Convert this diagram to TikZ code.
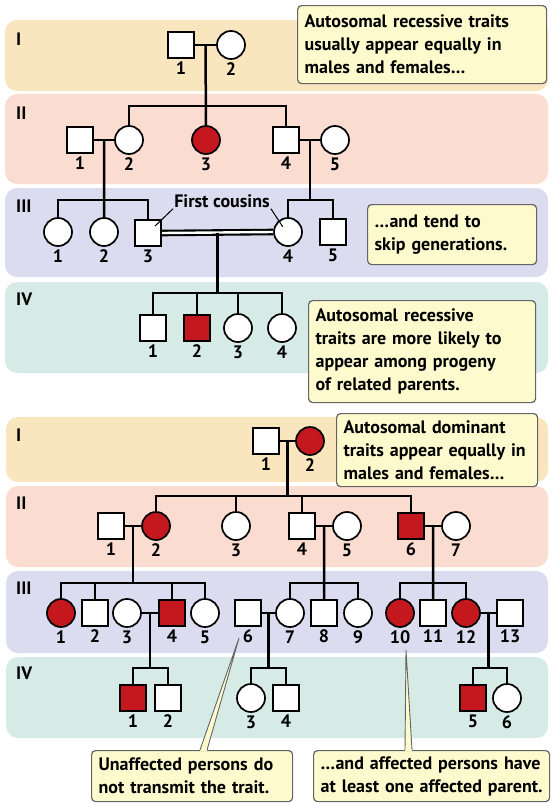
\documentclass[tikz,border=0pt]{standalone}
\usepackage{fontspec}
\setmainfont{PT Sans}
\usetikzlibrary{calc}

\definecolor{affred}{RGB}{196,24,30}
\definecolor{bandI}{RGB}{249,230,190}
\definecolor{bandII}{RGB}{250,221,208}
\definecolor{bandIII}{RGB}{220,220,240}
\definecolor{bandIV}{RGB}{214,235,229}
\definecolor{notefill}{RGB}{253,251,206}
\definecolor{noteline}{RGB}{100,100,100}

\newcommand{\notefont}{\fontsize{18}{23}\selectfont\bfseries}
\newcommand{\numfont}{\fontsize{18}{18}\selectfont\bfseries}

\tikzset{
	male/.style={rectangle, draw, line width=1.7pt, fill=white, minimum size=26pt, inner sep=0pt},
	female/.style={circle, draw, line width=1.7pt, fill=white, minimum size=28pt, inner sep=0pt},
	sick/.style={fill=affred},
	tie/.style={line width=2.5pt},
	band/.style={rounded corners=12pt},
	note/.style={draw=noteline, fill=notefill, line width=1.2pt, rounded corners=4pt, align=left, anchor=north west, inner xsep=7pt, inner ysep=3pt, font=\notefont},
	gen/.style={anchor=west, inner sep=0pt, font=\numfont},
	every label/.style={font=\numfont, inner sep=2.5pt}
}

\begin{document}
\begin{tikzpicture}[x=1pt, y=-1pt]
	\useasboundingbox (0,0) rectangle (554,803);

	% recessive
	\begin{scope}
		\fill[band, bandI] (5,20) rectangle (548,91);
		\fill[band, bandII] (5,94) rectangle (548,184);
		\fill[band, bandIII] (5,188) rectangle (548,277);
		\fill[band, bandIV] (5,282) rectangle (548,373);

		\node[gen] (aGI) at (16,39) {I};
		\node[gen] (aGII) at (16,113) {II};
		\node[gen] (aGIII) at (16,206) {III};
		\node[gen] (aGIV) at (16,299) {IV};

		\node[male, label=below:1] (aI1) at (181,45) {};
		\node[female, label=below:2] (aI2) at (231,45) {};

		\node[male, label=below:1] (aII1) at (80,140) {};
		\node[female, label=below:2] (aII2) at (129,140) {};
		\node[female, sick, label=below:3] (aII3) at (206,140) {};
		\node[male, label=below:4] (aII4) at (286,140) {};
		\node[female, label=below:5] (aII5) at (335,140) {};

		\node[female, label=below:1] (aIII1) at (58,232) {};
		\node[female, label=below:2] (aIII2) at (104,232) {};
		\node[male, label=below:3] (aIII3) at (148,233) {};
		\node[female, label=below:4] (aIII4) at (288,232) {};
		\node[male, label=below:5] (aIII5) at (333,232) {};

		\node[male, label=below:1] (aIV1) at (153,328) {};
		\node[male, sick, label=below:2] (aIV2) at (197,328) {};
		\node[female, label=below:3] (aIV3) at (238,328) {};
		\node[female, label=below:4] (aIV4) at (282,328) {};

		\coordinate (aM1) at ($(aI1.east)!.5!(aI2.west)$);
		\coordinate (aM2) at ($(aII1.east)!.5!(aII2.west)$);
		\coordinate (aM3) at ($(aII4.east)!.5!(aII5.west)$);
		\coordinate (aM4) at ($(aIII3.east)!.5!(aIII4.west)$);
		\coordinate (aJ1) at (aM1 |- 0,106);
		\coordinate (aJ2) at (aM2 |- 0,200);
		\coordinate (aJ3) at (aM3 |- 0,200);
		\coordinate (aJ4) at (aM4 |- 0,293);

		\draw[tie] (aI1) -- (aI2); % I-1 x I-2
		\draw[tie] (aM1) -- (aII3.north);
		\draw[tie] (aII2.north) |- (aJ1) -| (aII4.north);

		\draw[tie] (aII1) -- (aII2); % II-1 x II-2
		\draw[tie] (aM2) -- (aIII2.north);
		\draw[tie] (aIII1.north) |- (aJ2) -| (aIII3.north);

		\draw[tie] (aII4) -- (aII5); % II-4 x II-5
		\draw[tie] (aM3) -- (aJ3);
		\draw[tie] (aIII4.north) |- (aJ3) -| (aIII5.north);

		\draw[line width=2.1pt, double, double distance=2.4pt] (aIII3.east) -- (aIII4.west); % cugini
		\draw[tie] (aM4) -- (aJ4);
		\draw[tie] (aIV1.north) |- (aJ4) -| (aIV4.north);
		\draw[tie] (aJ4 -| aIV2) -- (aIV2.north);
		\draw[tie] (aJ4 -| aIV3) -- (aIV3.north);

		\node[font=\notefont, inner sep=1pt] (aFC) at (222,201) {First cousins};
		\draw[line width=1pt] (aFC.south west) -- ($(aIII3.center)!.5!(aIII3.north east)$);
		\draw[line width=1pt] (aFC.south east) -- ($(aIII4.center)!.5!(aIII4.north west)$);

		\node[note, text width=235pt, minimum height=78pt, inner ysep=5pt] (aN1) at (297,5)
			{Autosomal recessive traits\\usually appear equally in\\males and females…};
		\node[note, text width=155pt, minimum height=60pt] (aN2) at (367,204)
			{…and tend to\\skip generations.};
		\node[note, text width=213pt, minimum height=102pt] (aN3) at (308,300)
			{Autosomal recessive\\traits are more likely to\\appear among progeny\\of related parents.};
	\end{scope}

	% dominant
	\begin{scope}
		\fill[band, bandI] (6,417) rectangle (548,482);
		\fill[band, bandII] (6,486) rectangle (548,567);
		\fill[band, bandIII] (6,571) rectangle (548,653);
		\fill[band, bandIV] (6,657) rectangle (548,738);

		\node[gen] (bGI) at (16,435) {I};
		\node[gen] (bGII) at (16,503) {II};
		\node[gen] (bGIII) at (16,588) {III};
		\node[gen] (bGIV) at (16,673) {IV};

		\node[male, label=below:1] (bI1) at (266,441) {};
		\node[female, sick, label=below:2] (bI2) at (310,441) {};

		\node[male, label=below:1] (bII1) at (111,526) {};
		\node[female, sick, label=below:2] (bII2) at (156,526) {};
		\node[female, label=below:3] (bII3) at (236,526) {};
		\node[male, label=below:4] (bII4) at (302,526) {};
		\node[female, label=below:5] (bII5) at (347,526) {};
		\node[male, sick, label=below:6] (bII6) at (411,526) {};
		\node[female, label=below:7] (bII7) at (456,526) {};

		\node[female, sick, label=below:1] (bIII1) at (61,613) {};
		\node[male, label=below:2] (bIII2) at (95,613) {};
		\node[female, label=below:3] (bIII3) at (127,613) {};
		\node[male, sick, label=below:4] (bIII4) at (172,613) {};
		\node[female, label=below:5] (bIII5) at (205,613) {};
		\node[male, label=below:6] (bIII6) at (248,613) {};
		\node[female, label=below:7] (bIII7) at (290,613) {};
		\node[male, label=below:8] (bIII8) at (324,613) {};
		\node[female, label=below:9] (bIII9) at (358,613) {};
		\node[female, sick, label=below:10] (bIII10) at (400,613) {};
		\node[male, label=below:11] (bIII11) at (433,613) {};
		\node[female, sick, label=below:12] (bIII12) at (466,613) {};
		\node[male, label=below:13] (bIII13) at (510,613) {};

		\node[male, sick, label=below:1] (bIV1) at (133,698) {};
		\node[male, label=below:2] (bIV2) at (168,698) {};
		\node[female, label=below:3] (bIV3) at (251,698) {};
		\node[male, label=below:4] (bIV4) at (286,698) {};
		\node[male, sick, label=below:5] (bIV5) at (473,698) {};
		\node[female, label=below:6] (bIV6) at (507,698) {};

		\coordinate (bM1) at ($(bI1.east)!.5!(bI2.west)$);
		\coordinate (bM2) at ($(bII1.east)!.5!(bII2.west)$);
		\coordinate (bM3) at ($(bII4.east)!.5!(bII5.west)$);
		\coordinate (bM4) at ($(bII6.east)!.5!(bII7.west)$);
		\coordinate (bM5) at ($(bIII3.east)!.5!(bIII4.west)$);
		\coordinate (bM6) at ($(bIII6.east)!.5!(bIII7.west)$);
		\coordinate (bM7) at ($(bIII12.east)!.5!(bIII13.west)$);
		\coordinate (bJ1) at (bM1 |- 0,496);
		\coordinate (bJ2) at (bM2 |- 0,583);
		\coordinate (bJ3) at (bM3 |- 0,583);
		\coordinate (bJ4) at (bM4 |- 0,583);
		\coordinate (bJ5) at (bM5 |- 0,668);
		\coordinate (bJ6) at (bM6 |- 0,668);
		\coordinate (bJ7) at (bM7 |- 0,668);

		\draw[tie] (bI1) -- (bI2); % I-1 x I-2
		\draw[tie] (bM1) -- (bJ1);
		\draw[tie] (bII2.north) |- (bJ1) -| (bII6.north);
		\draw[tie] (bJ1 -| bII3) -- (bII3.north);
		\draw[tie] (bJ1 -| bII4) -- (bII4.north);

		\draw[tie] (bII1) -- (bII2); % II-1 x II-2
		\draw[tie] (bM2) -- (bJ2);
		\draw[tie] (bIII1.north) |- (bJ2) -| (bIII5.north);
		\draw[tie] (bJ2 -| bIII2) -- (bIII2.north);
		\draw[tie] (bJ2 -| bIII4) -- (bIII4.north);

		\draw[tie] (bII4) -- (bII5); % II-4 x II-5
		\draw[tie] (bM3) -- (bIII8.north);
		\draw[tie] (bIII7.north) |- (bJ3) -| (bIII9.north);

		\draw[tie] (bII6) -- (bII7); % II-6 x II-7
		\draw[tie] (bM4) -- (bIII11.north);
		\draw[tie] (bIII10.north) |- (bJ4) -| (bIII12.north);

		\draw[tie] (bIII3) -- (bIII4); % III-3 x III-4
		\draw[tie] (bM5) -- (bJ5);
		\draw[tie] (bIV1.north) |- (bJ5) -| (bIV2.north);

		\draw[tie] (bIII6) -- (bIII7); % III-6 x III-7
		\draw[tie] (bM6) -- (bJ6);
		\draw[tie] (bIV3.north) |- (bJ6) -| (bIV4.north);

		\draw[tie] (bIII12) -- (bIII13); % III-12 x III-13
		\draw[tie] (bM7) -- (bJ7);
		\draw[tie] (bIV5.north) |- (bJ7) -| (bIV6.north);

		\node[note, text width=187pt, minimum height=73pt] (bN1) at (336,413)
			{Autosomal dominant\\traits appear equally in\\males and females…};
		\node[note, text width=187pt, minimum height=51pt] (bN2) at (91,750)
			{Unaffected persons do\\not transmit the trait.};
		\node[note, text width=222pt, minimum height=51pt] (bN3) at (313,750)
			{…and affected persons have\\at least one affected parent.};

		% punte dei fumetti
		\coordinate (bP1) at (239,638);
		\coordinate (bP2) at (406,650);
		\fill[notefill] ($(bN2.north west)+(109,1)$) -- (bP1) -- ($(bN2.north west)+(116,1)$) -- cycle;
		\draw[noteline, line width=0.9pt] ($(bN2.north west)+(109,0)$) -- (bP1) -- ($(bN2.north west)+(116,0)$);
		\fill[notefill] ($(bN3.north west)+(92,1)$) -- (bP2) -- ($(bN3.north west)+(99,1)$) -- cycle;
		\draw[noteline, line width=0.9pt] ($(bN3.north west)+(92,0)$) -- (bP2) -- ($(bN3.north west)+(99,0)$);
	\end{scope}
\end{tikzpicture}
\end{document}
